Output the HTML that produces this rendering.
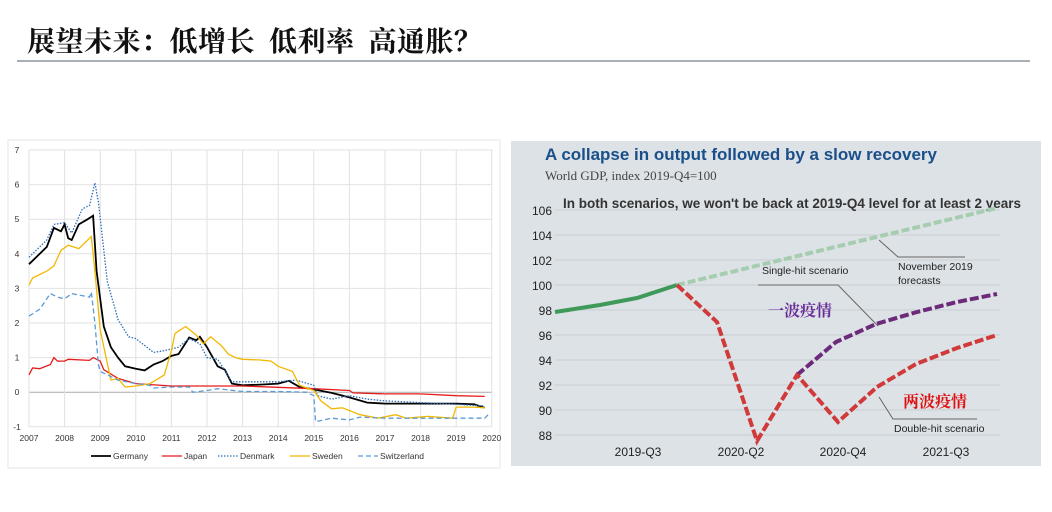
<!DOCTYPE html>
<html><head><meta charset="utf-8"><style>
html,body{margin:0;padding:0;background:#fff;width:1052px;height:512px;overflow:hidden}
.t{position:absolute;left:27px;top:20px;font:bold 28px "Noto Serif CJK SC","Liberation Serif",serif;letter-spacing:0.5px;color:#111;white-space:nowrap}
.sp{display:inline-block;width:14px}
</style></head><body>
<div class="t">展望未来：低增长<span class="sp"></span>低利率<span class="sp"></span>高通胀？</div>
<svg width="1052" height="512" style="position:absolute;left:0;top:0" xmlns="http://www.w3.org/2000/svg">
<line x1="17" y1="61" x2="1030" y2="61" stroke="#a9afb7" stroke-width="2"/>
<rect x="8" y="140" width="492" height="328" fill="#fff" stroke="#e6e6e6"/>
<g id="lg" font-family="Liberation Sans,sans-serif" font-size="8.5" fill="#333"></g>
<g id="ld" fill="none" stroke-width="1.3"></g>
<rect x="511" y="141" width="530" height="325" fill="#dde2e6"/>
<g id="rg" font-family="Liberation Sans,sans-serif" font-size="12" fill="#222"></g>
<text x="545" y="160" font-family="Liberation Sans,sans-serif" font-weight="bold" font-size="17" fill="#1a4f8a" textLength="392" lengthAdjust="spacingAndGlyphs">A collapse in output followed by a slow recovery</text>
<text x="545" y="180" font-family="Liberation Serif,serif" font-size="13" fill="#444">World GDP, index 2019-Q4=100</text>
<text x="563" y="208" font-family="Liberation Sans,sans-serif" font-weight="bold" font-size="14" fill="#333" textLength="458" lengthAdjust="spacingAndGlyphs">In both scenarios, we won't be back at 2019-Q4 level for at least 2 years</text>
<polyline points="555,312 600,305 637,298 677,285" fill="none" stroke="#3f9a5a" stroke-width="4"/>
<line x1="677" y1="285" x2="997" y2="208" stroke="#a6cdb0" stroke-width="4" stroke-dasharray="8,3"/>
<polyline points="797,375 836,342 876,324 917,312 957,302 997,294" fill="none" stroke="#6d2a7a" stroke-width="4" stroke-dasharray="9,3"/>
<polyline points="677,285 717,322 757,441 797,375 838,422 877,387 916,364 957,348 997,335" fill="none" stroke="#d03a3a" stroke-width="4" stroke-dasharray="9,3"/>
<polyline points="879,240 898,257 965,257" fill="none" stroke="#666" stroke-width="1"/>
<polyline points="758,285 838,285 878,326" fill="none" stroke="#666" stroke-width="1"/>
<polyline points="879,397 893,419 977,419" fill="none" stroke="#666" stroke-width="1"/>
<g font-family="Liberation Sans,sans-serif" font-size="10.5" fill="#222">
<text x="762" y="274">Single-hit scenario</text>
<text x="898" y="270">November 2019</text>
<text x="898" y="284">forecasts</text>
<text x="894" y="432">Double-hit scenario</text>
</g>
<text x="768" y="316" font-family="'Noto Serif CJK SC',serif" font-weight="bold" font-size="16" fill="#6a2e9a">一波疫情</text>
<text x="903" y="407" font-family="'Noto Serif CJK SC',serif" font-weight="bold" font-size="16" fill="#e01010">两波疫情</text>
</svg>
<script>
var ns="http://www.w3.org/2000/svg";
function el(p,n,a,t){var e=document.createElementNS(ns,n);for(var k in a)e.setAttribute(k,a[k]);if(t!=null)e.textContent=t;p.appendChild(e);return e;}
var lg=document.getElementById('lg'),ld=document.getElementById('ld');
function X(y){return 29+(y-2007)*35.6;}function Y(v){return 150+(7-v)*34.6;}
for(var v=-1;v<=7;v++){el(lg,'line',{x1:29,x2:492,y1:Y(v),y2:Y(v),stroke:v==0?'#aaa':'#e2e2e2','stroke-width':1});el(lg,'text',{x:17,y:Y(v)+3,'text-anchor':'middle'},v);}
for(var y=2007;y<=2020;y++){el(lg,'line',{x1:X(y),x2:X(y),y1:150,y2:427,stroke:'#e2e2e2'});el(lg,'text',{x:X(y),y:441,'text-anchor':'middle'},y);}
var S=[
['#000','',1.8,[[2007,3.7],[2007.5,4.2],[2007.7,4.75],[2007.9,4.65],[2008,4.85],[2008.1,4.45],[2008.2,4.4],[2008.4,4.85],[2008.6,4.97],[2008.8,5.1],[2008.9,3.5],[2009.1,1.9],[2009.3,1.3],[2009.5,1.0],[2009.7,0.75],[2010,0.68],[2010.25,0.63],[2010.5,0.8],[2010.75,0.9],[2011,1.05],[2011.2,1.1],[2011.5,1.58],[2011.7,1.5],[2011.8,1.6],[2012,1.3],[2012.3,0.75],[2012.5,0.65],[2012.7,0.25],[2013,0.2],[2013.5,0.22],[2014,0.25],[2014.3,0.33],[2014.6,0.15],[2015,0.08],[2015.5,-0.02],[2016,-0.15],[2016.5,-0.3],[2017,-0.33],[2018,-0.33],[2019,-0.33],[2019.5,-0.35],[2019.8,-0.45]]],
['#e51c1c','',1.3,[[2007,0.5],[2007.1,0.7],[2007.3,0.68],[2007.6,0.8],[2007.7,1.0],[2007.8,0.9],[2008,0.9],[2008.1,0.95],[2008.7,0.92],[2008.8,1.0],[2009,0.9],[2009.1,0.65],[2009.5,0.4],[2010,0.25],[2011,0.18],[2013,0.18],[2015,0.1],[2016,0.05],[2016.1,-0.02],[2017,-0.05],[2018,-0.05],[2019,-0.1],[2019.8,-0.12]]],
['#2f6fb5','1.5,1.5',1.3,[[2007,3.9],[2007.5,4.4],[2007.7,4.85],[2008,4.9],[2008.2,4.6],[2008.5,5.3],[2008.7,5.4],[2008.85,6.05],[2008.95,5.5],[2009.2,3.2],[2009.5,2.1],[2009.8,1.6],[2010,1.55],[2010.5,1.15],[2010.8,1.2],[2011.2,1.3],[2011.5,1.55],[2011.8,1.4],[2012,1.0],[2012.3,0.95],[2012.7,0.3],[2013,0.3],[2014,0.3],[2014.5,0.35],[2015,0.2],[2015.1,-0.1],[2015.5,-0.2],[2016,-0.1],[2016.5,-0.2],[2017,-0.25],[2018,-0.3],[2019,-0.35],[2019.8,-0.4]]],
['#f2b800','',1.3,[[2007,3.1],[2007.1,3.3],[2007.5,3.5],[2007.7,3.65],[2007.9,4.1],[2008.1,4.25],[2008.4,4.15],[2008.6,4.35],[2008.75,4.5],[2008.85,3.5],[2009.0,1.8],[2009.3,0.35],[2009.5,0.4],[2009.7,0.15],[2010,0.18],[2010.4,0.25],[2010.8,0.5],[2011,1.2],[2011.1,1.7],[2011.4,1.9],[2011.7,1.65],[2011.9,1.4],[2012.1,1.6],[2012.4,1.35],[2012.6,1.1],[2012.8,1.0],[2013,0.95],[2013.5,0.93],[2013.8,0.9],[2014,0.75],[2014.4,0.6],[2014.6,0.2],[2015,0.05],[2015.2,-0.25],[2015.5,-0.48],[2015.8,-0.45],[2016.3,-0.65],[2016.8,-0.75],[2017.3,-0.65],[2017.6,-0.75],[2018.2,-0.7],[2018.9,-0.75],[2019.0,-0.43],[2019.5,-0.43],[2019.8,-0.45]]],
['#5b9bd5','5,3',1.3,[[2007,2.2],[2007.3,2.4],[2007.6,2.85],[2007.8,2.75],[2008,2.7],[2008.2,2.85],[2008.7,2.75],[2008.75,2.9],[2008.85,2.0],[2008.95,0.8],[2009.0,0.6],[2009.3,0.45],[2009.5,0.35],[2010,0.25],[2010.4,0.2],[2010.5,0.12],[2011,0.15],[2011.5,0.15],[2011.6,0.0],[2012,0.05],[2012.3,0.1],[2013,0.02],[2014,0.02],[2014.8,0.0],[2015.0,-0.1],[2015.05,-0.85],[2015.5,-0.75],[2016,-0.8],[2016.3,-0.72],[2017,-0.75],[2019.8,-0.75],[2019.9,-0.65]]]];
S.forEach(function(s){el(ld,'polyline',{points:s[3].map(function(p){return X(p[0]).toFixed(1)+','+Y(p[1]).toFixed(1)}).join(' '),stroke:s[0],'stroke-dasharray':s[1],'stroke-width':s[2]});});
var L=[['Germany',91],['Japan',162],['Denmark',218],['Sweden',290],['Switzerland',358]];
L.forEach(function(l,i){el(ld,'line',{x1:l[1],x2:l[1]+20,y1:456,y2:456,stroke:S[i][0],'stroke-dasharray':S[i][1],'stroke-width':S[i][2]});el(lg,'text',{x:l[1]+22,y:459},l[0]);});
var rg=document.getElementById('rg');
for(var v=88;v<=106;v+=2){var yy=210+(106-v)*12.5;el(rg,'line',{x1:555,x2:1000,y1:yy,y2:yy,stroke:'#c9cfd4'});el(rg,'text',{x:552,y:yy+5,'text-anchor':'end'},v);}
[['2019-Q3',638],['2020-Q2',741],['2020-Q4',843],['2021-Q3',946]].forEach(function(q){el(rg,'text',{x:q[1],y:456,'text-anchor':'middle'},q[0]);});
</script>
</body></html>
